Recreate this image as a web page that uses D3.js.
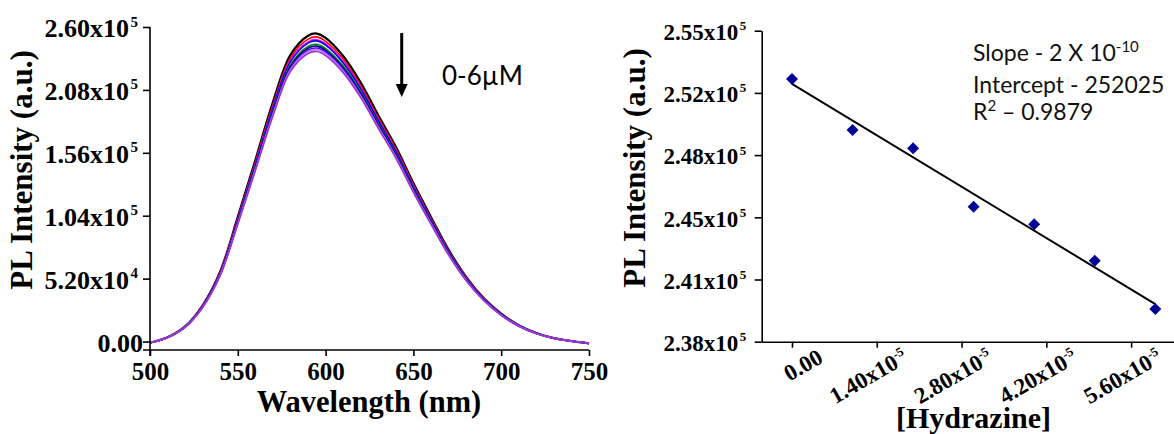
<!DOCTYPE html>
<html>
<head>
<meta charset="utf-8">
<script src="https://cdn.jsdelivr.net/npm/d3@7"></script>
<style>
  html, body { margin: 0; padding: 0; background: #ffffff; }
  svg { display: block; }
</style>
</head>
<body>
<div id="chart"></div>
<script>
// ---------------- DATA ----------------
// Left panel: PL spectra (0-6 µM hydrazine)
const wavelengths = [500,510,520,530,540,550,560,570,580,590,595,600,610,620,630,640,650,660,670,680,690,700,710,720,730,740,750];
const spec0 = [-1000,3500,12500,30000,58000,103000,150000,198000,237000,252800,254600,251000,236000,214000,187000,161000,131000,103000,76000,53500,36000,23000,13500,7000,2800,400,-1500];
const spec1 = [-1000,3500,12400,29700,57400,101900,148400,195800,234400,250000,251800,248200,233400,211600,184900,159200,129600,101900,75200,52900,35600,22700,13400,6900,2800,400,-1500];
const spec2 = [-1000,3400,12300,29400,56800,100900,147000,194000,232300,247700,249500,246000,231300,209700,183300,157800,128400,100900,74500,52400,35300,22500,13200,6900,2700,400,-1500];
const spec3 = [-1000,3400,12200,29300,56600,100500,146400,193200,231300,246700,248500,245000,230300,208900,182500,157100,127900,100500,74200,52200,35100,22400,13200,6800,2700,400,-1500];
const spec4 = [-1000,3400,12100,29000,56000,99400,144800,191100,228700,244000,245700,242200,227700,206500,180500,155400,126400,99400,73300,51600,34700,22200,13000,6800,2700,400,-1500];
const spec5 = [-1000,3400,12000,28800,55600,98800,143900,189900,227300,242400,244200,240700,226300,205200,179300,154400,125600,98800,72900,51300,34500,22100,12900,6700,2700,400,-1500];
const spec6 = [-1000,3300,11900,28600,55300,98200,143000,188700,225900,240900,242600,239200,224900,203900,178200,153400,124800,98200,72400,51000,34300,21900,12900,6700,2700,400,-1500];
const spec7 = [-1000,3300,11900,28400,55000,97600,142200,187700,224700,239700,241400,237900,223700,202900,177300,152600,124200,97600,72000,50700,34100,21800,12800,6600,2700,400,-1500];
const spec8 = [-1000,3300,11800,28300,54600,97000,141300,186500,223300,238100,239800,236400,222300,201600,176200,151700,123400,97000,71600,50400,33900,21700,12700,6600,2600,400,-1500];
const spectra = [spec0, spec1, spec2, spec3, spec4, spec5, spec6, spec7, spec8];
const specColors = ['#000000','#ff0000','#ff00ff','#0000ff','#008000','#000080','#4b00ff','#c070ff','#9933cc'];

const leftXTicks = [500,550,600,650,700,750];
const leftYTicks = [0,52000,104000,156000,208000,260000];
const leftYLabels = ['0.00','5.20x10^4','1.04x10^5','1.56x10^5','2.08x10^5','2.60x10^5'];

// Right panel: calibration
const conc = [0, 1e-5, 2e-5, 3e-5, 4e-5, 5e-5, 6e-5];
const intensity = [252360, 249570, 248570, 245380, 244420, 242430, 239790];
const rightXTicks = [0, 1.4e-5, 2.8e-5, 4.2e-5, 5.6e-5];
const rightXLabels = ['0.00','1.40x10^-5','2.80x10^-5','4.20x10^-5','5.60x10^-5'];
const rightYTicks = [238000, 241400, 244800, 248200, 251600, 255000];
const rightYLabels = ['2.38x10^5','2.41x10^5','2.45x10^5','2.48x10^5','2.52x10^5','2.55x10^5'];

const annotLines = [['Slope - 2 X 10','-10',''], ['Intercept - 252025','',''], ['R','2',' \u2013 0.9879']];
const arrowLabel = '0-6\u00B5M';

// ---------------- DRAW ----------------
const W = 1174, H = 434;
const SERIF = '"Liberation Serif", "Times New Roman", serif';
const SANS = 'Lato, "Open Sans", sans-serif';
const svg = d3.select('#chart').append('svg').attr('width', W).attr('height', H)
  .style('font-family', SERIF);

svg.append('rect').attr('width', W).attr('height', H).attr('fill', '#ffffff');

function supText(sel, str, supSize, raise) {
  const parts = str.split('^');
  sel.text(null);
  sel.append('tspan').text(parts[0]);
  if (parts[1] !== undefined) {
    sel.append('tspan').attr('font-size', supSize).attr('dy', -raise).text(parts[1]);
  }
}

// y tick label: main text right-aligned, exponent as separate text after it
function yTickLabel(node, str, cfg) {
  const parts = str.split('^');
  const t = d3.select(node);
  const g = d3.select(node.parentNode);
  t.text(parts[0])
   .attr('x', parts[1] !== undefined ? cfg.mainEnd : cfg.plainEnd)
   .attr('y', 0).attr('dy', cfg.dy).attr('text-anchor', 'end')
   .attr('font-size', cfg.size).attr('font-weight', 'bold').attr('fill', '#000')
   .attr('font-family', SERIF);
  if (parts[1] !== undefined) {
    g.append('text').text(parts[1])
     .attr('x', cfg.mainEnd + 1.5).attr('y', cfg.supY)
     .attr('text-anchor', 'start')
     .attr('font-size', cfg.supSize).attr('font-weight', 'bold').attr('fill', '#000')
     .attr('font-family', SERIF);
  }
}

// ---- Left panel ----
const xL = d3.scaleLinear().domain([500, 750]).range([150, 589]);
const yL = d3.scaleLinear().domain([-7000, 260000]).range([350, 27]);

const line = d3.line()
  .x((d, i) => xL(wavelengths[i]))
  .y(d => yL(d))
  .curve(d3.curveCatmullRom.alpha(0.5));

const gSpec = svg.append('g');
spectra.forEach((s, k) => {
  gSpec.append('path').datum(s)
    .attr('d', line)
    .attr('fill', 'none')
    .attr('stroke', specColors[k])
    .attr('stroke-width', k === 0 ? 2.2 : 1.6);
});

const axXL = svg.append('g').attr('transform', 'translate(0,350)')
  .call(d3.axisBottom(xL).tickValues(leftXTicks).tickSize(6).tickSizeOuter(0).tickFormat(d3.format('d')));
axXL.select('.domain').attr('stroke-width', 1.6).attr('d', 'M143,0H589');
axXL.selectAll('.tick line').attr('stroke-width', 1.6);
axXL.selectAll('.tick text').attr('y', 30).attr('dy', 0)
  .attr('font-size', 25).attr('font-weight', 'bold').attr('fill', '#000')
  .attr('font-family', SERIF);

const axYL = svg.append('g').attr('transform', 'translate(150,0)')
  .call(d3.axisLeft(yL).tickValues(leftYTicks).tickSize(7).tickSizeOuter(0).tickFormat(''));
axYL.select('.domain').attr('stroke-width', 1.6).attr('d', 'M0,27V356');
axYL.selectAll('.tick line').attr('stroke-width', 1.6);
axYL.selectAll('.tick text').each(function(d, i) {
  yTickLabel(this, leftYLabels[i], { mainEnd: -21, plainEnd: -7, dy: '0.38em', size: 26, supSize: 15, supY: -1 });
});

svg.append('text')
  .attr('transform', 'translate(32,170) rotate(-90)')
  .attr('text-anchor', 'middle')
  .attr('font-size', 31).attr('font-weight', 'bold')
  .text('PL Intensity (a.u.)');

svg.append('text')
  .attr('x', 369).attr('y', 412)
  .attr('text-anchor', 'middle')
  .attr('font-size', 30.5).attr('font-weight', 'bold')
  .text('Wavelength (nm)');

// arrow annotation
const gArrow = svg.append('g');
gArrow.append('line').attr('x1', 401.7).attr('x2', 401.7).attr('y1', 33).attr('y2', 88)
  .attr('stroke', '#000').attr('stroke-width', 3);
gArrow.append('path').attr('d', 'M395.7,84L407.7,84L401.7,97Z').attr('fill', '#000');
svg.append('text').attr('x', 442).attr('y', 85)
  .attr('font-family', SANS).attr('font-size', 26)
  .text(arrowLabel);

// ---- Right panel ----
const xR = d3.scaleLinear().domain([-0.5e-5, 6.3e-5]).range([761.7, 1173.5]);
const yR = d3.scaleLinear().domain([238000, 255000]).range([341.7, 30.7]);

// least squares fit
const mx = d3.mean(conc), my = d3.mean(intensity);
const sxy = d3.sum(conc, (c, i) => (c - mx) * (intensity[i] - my));
const sxx = d3.sum(conc, c => (c - mx) * (c - mx));
const slope = sxy / sxx, intercept = my - slope * mx;
const fitX = d3.extent(conc);

svg.append('line')
  .attr('x1', xR(fitX[0])).attr('y1', yR(intercept + slope * fitX[0]))
  .attr('x2', xR(fitX[1])).attr('y2', yR(intercept + slope * fitX[1]))
  .attr('stroke', '#000').attr('stroke-width', 2);

const diamond = d3.symbol().type(d3.symbolSquare).size(72);
svg.append('g').selectAll('path').data(conc).join('path')
  .attr('d', diamond)
  .attr('transform', (d, i) => `translate(${xR(d)},${yR(intensity[i])}) rotate(45)`)
  .attr('fill', '#000099');

const axXR = svg.append('g').attr('transform', 'translate(0,341.7)')
  .call(d3.axisBottom(xR).tickValues(rightXTicks).tickSize(6).tickSizeOuter(0).tickFormat(''));
axXR.select('.domain').attr('stroke-width', 1.6);
axXR.selectAll('.tick line').attr('stroke-width', 1.6);
axXR.selectAll('.tick text').each(function(d, i) {
  const t = d3.select(this);
  t.attr('x', 0).attr('y', 0).attr('dy', 0)
   .attr('text-anchor', 'end')
   .attr('transform', 'translate(32,20) rotate(-30)')
   .attr('font-size', 23).attr('font-weight', 'bold').attr('fill', '#000')
   .attr('font-family', SERIF);
  supText(t, rightXLabels[i], 13, 9);
});

const axYR = svg.append('g').attr('transform', 'translate(761.7,0)')
  .call(d3.axisLeft(yR).tickValues(rightYTicks).tickSize(7).tickSizeOuter(0).tickFormat(''));
axYR.select('.domain').attr('stroke-width', 1.6);
axYR.selectAll('.tick line').attr('stroke-width', 1.6);
axYR.selectAll('.tick text').each(function(d, i) {
  yTickLabel(this, rightYLabels[i], { mainEnd: -23.5, plainEnd: -9, dy: '0.38em', size: 23, supSize: 13, supY: -1 });
});

svg.append('text')
  .attr('transform', 'translate(645,168) rotate(-90)')
  .attr('text-anchor', 'middle')
  .attr('font-size', 31).attr('font-weight', 'bold')
  .text('PL Intensity (a.u.)');

svg.append('text')
  .attr('x', 973.5).attr('y', 428)
  .attr('text-anchor', 'middle')
  .attr('font-size', 30).attr('font-weight', 'bold')
  .text('[Hydrazine]');

// statistics annotation
const annotY = [61, 93, 120];
annotLines.forEach((parts, k) => {
  const t = svg.append('text').attr('x', 973).attr('y', annotY[k])
    .attr('font-family', SANS).attr('font-size', 23).attr('fill', '#111');
  t.append('tspan').text(parts[0]);
  if (parts[1]) t.append('tspan').attr('font-size', 15).attr('dy', -9).text(parts[1]);
  if (parts[2]) t.append('tspan').attr('dy', 9).text(parts[2]);
});
</script>
</body>
</html>
